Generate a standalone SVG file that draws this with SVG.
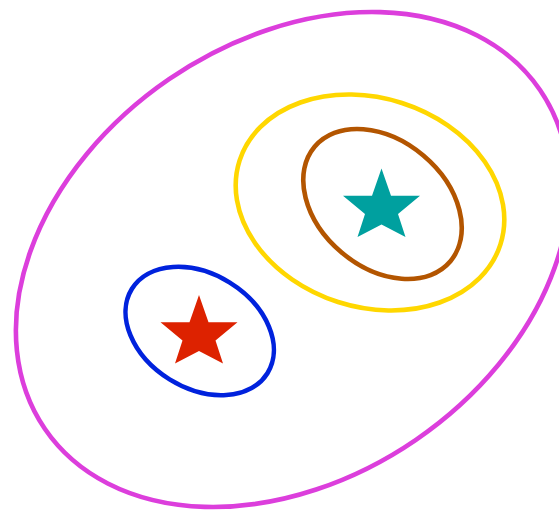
<svg xmlns="http://www.w3.org/2000/svg" xmlns:xlink="http://www.w3.org/1999/xlink" width="559" height="511" viewBox="0 0 559 511">
  <style>
    .ring { fill: none; stroke-width: 4.6; }
  </style>
  <defs>
    <polygon id="star" points="0,-38 9.5,-10.8 38.5,-10.8 16.5,7.5 24,30.5 0,18 -24,30.5 -16.5,7.5 -38.5,-10.8 -9.5,-10.8"/>
  </defs>
  <rect width="559" height="511" fill="#ffffff"/>
  <g id="magenta-ellipse">
    <ellipse class="ring" stroke="#dc3edc" cx="292.5" cy="259.5" rx="300" ry="218.5" transform="rotate(-34.4 292.5 259.5)"/>
  </g>
  <g id="yellow-ellipse">
    <ellipse class="ring" stroke="#ffd700" cx="370" cy="202.5" rx="137" ry="104.5" transform="rotate(17.8 370 202.5)"/>
  </g>
  <g id="brown-ellipse">
    <ellipse class="ring" stroke="#b35500" cx="382.5" cy="204" rx="88.8" ry="63.4" transform="rotate(40.1 382.5 204)"/>
  </g>
  <g id="blue-ellipse">
    <ellipse class="ring" stroke="#0022dd" cx="199.7" cy="331" rx="79.8" ry="57" transform="rotate(31.9 199.7 331)"/>
  </g>
  <g id="red-star">
    <use xlink:href="#star" href="#star" transform="translate(199 333)" fill="#dd2200"/>
  </g>
  <g id="teal-star">
    <use xlink:href="#star" href="#star" transform="translate(381.5 206.5)" fill="#00a09f"/>
  </g>
</svg>
